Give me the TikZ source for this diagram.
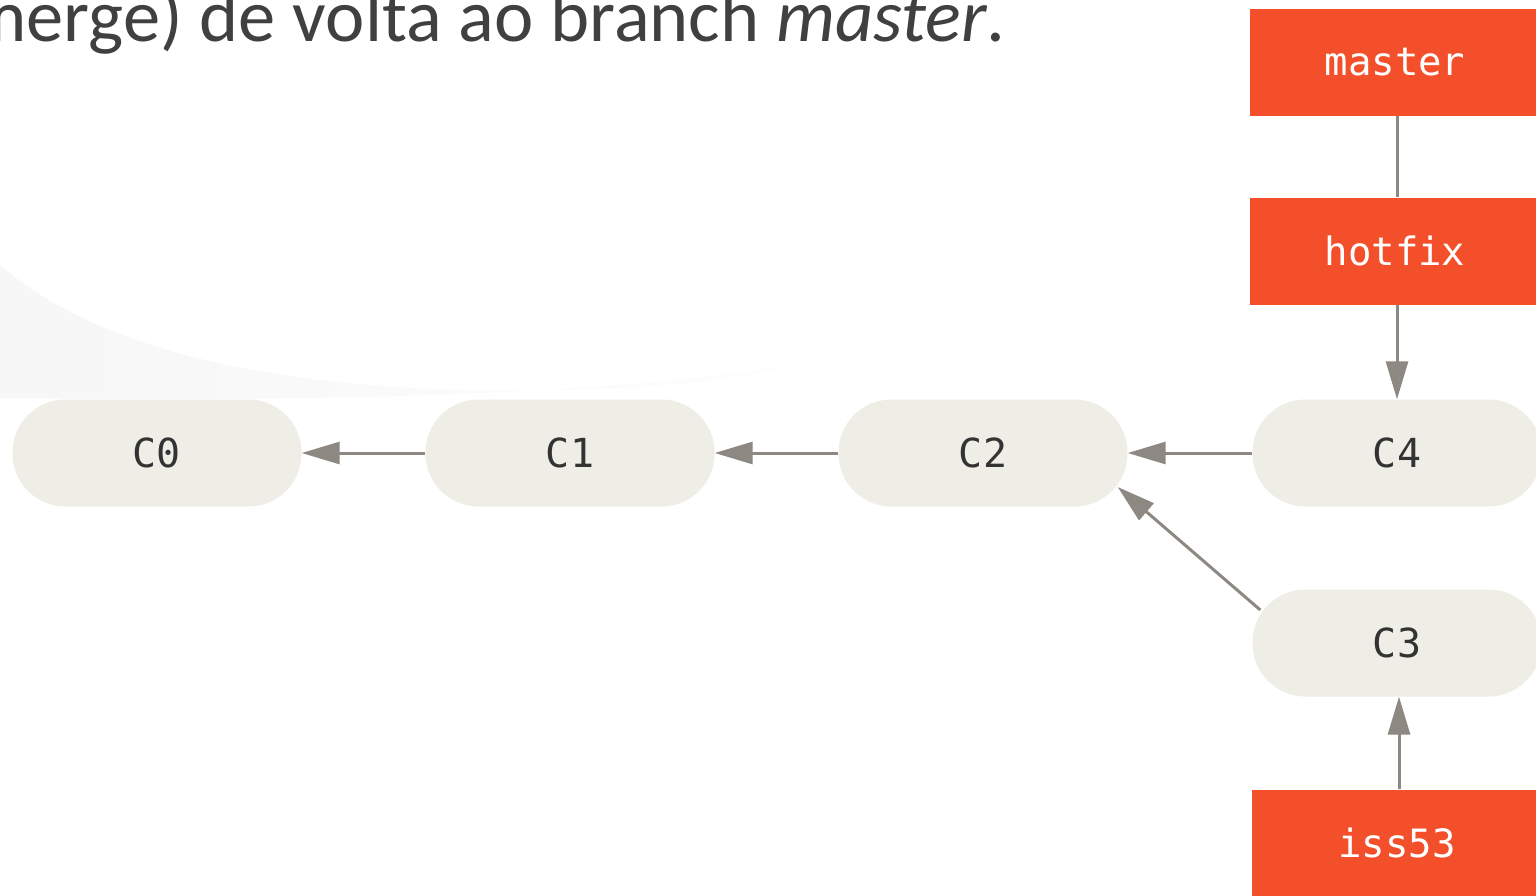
\documentclass[tikz,border=0pt]{standalone}
\usepackage{fontspec}
\setmainfont{Carlito}
\newfontfamily\codefont{DejaVu Sans Mono}
\usetikzlibrary{arrows.meta,calc,fadings}
\definecolor{branchred}{HTML}{F24F2A}
\definecolor{commitfill}{HTML}{EEEDE6}
\definecolor{arrowgray}{HTML}{8D8882}
\definecolor{textgray}{HTML}{404040}
\definecolor{commitText}{HTML}{333333}
\begin{document}
\begin{tikzpicture}[x=1pt,y=-1pt,
  commit/.style={fill=commitfill, rounded corners=53pt, minimum width=289pt, minimum height=107pt, inner sep=0pt, font=\codefont\fontsize{40}{40}\selectfont, text=commitText},
  branch/.style={fill=branchred, minimum width=290pt, minimum height=107pt, inner sep=0pt, font=\codefont\fontsize{39}{39}\selectfont, text=white},
  link/.style={draw=arrowgray, line width=3pt},
  parent/.style={link, -{Triangle[length=38pt,width=22pt]}}]
\useasboundingbox (0,0) rectangle (1536,895);
\fill[white] (0,0) rectangle (1536,895);
\fill[black!3, path fading=east] (0,265) .. controls (120,370) and (350,395) .. (560,390) .. controls (700,387) and (800,370) .. (880,345) .. controls (700,398) and (300,402) .. (0,398) -- cycle;
\node[anchor=base east, font=\fontsize{74.5}{74.5}\selectfont, text=textgray, inner sep=0pt] (title) at (1006,41) {merge) de volta ao branch \textit{master}.};
\node[commit] (C0) at (157,453) {C0};
\node[commit] (C1) at (570,453) {C1};
\node[commit] (C2) at (983,453) {C2};
\node[commit] (C4) at (1397,453) {C4};
\node[commit] (C3) at (1397,643) {C3};
\node[branch] (master) at (1395,62.5) {master};
\node[branch] (hotfix) at (1395,251) {hotfix};
\node[branch] (iss53) at (1397,843) {iss53};
\draw[parent] (C1.west) -- (C0.east);
\draw[parent] (C2.west) -- (C1.east);
\draw[parent] (C4.west) -- (C2.east);
\draw[parent] ($(C3.west)+(8,-33)$) -- ($(C2.east)+(-10,34)$);
\draw[link] (master.south -| C4.north) -- (hotfix.north -| C4.north);
\draw[parent] (hotfix.south -| C4.north) -- (C4.north);
\draw[parent] ($(iss53.north)+(2,0)$) -- ($(C3.south)+(2,0)$);
\end{tikzpicture}
\end{document}
